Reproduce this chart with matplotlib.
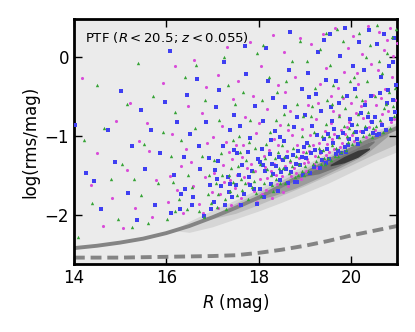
import numpy as np
import matplotlib
matplotlib.use("Agg")
import matplotlib.pyplot as plt

# scatter samples (R mag, log rms)
mag_pts = [(14.17,-0.27),(14.38,-1.62),(14.62,-2.14),(14.51,-1.22),(14.83,-1.78),(14.91,-0.81),
    (15.07,-2.17),(15.21,-0.58),(15.33,-1.91),(15.41,-1.07),(15.16,-1.43),(15.58,-0.84),(15.69,-2.03),(15.77,-1.56),(15.94,-0.33),(15.63,-1.19),
    (16.04,-1.83),(16.13,-0.97),(16.19,-0.12),(16.31,-1.38),(16.36,-1.97),(16.47,-0.62),(16.42,-1.17),(16.24,-1.69),(16.53,-1.33),
    (16.61,-0.04),(16.71,-1.86),(16.77,-0.71),(16.83,-1.52),(16.89,-1.09),(16.96,-1.93),(16.86,-0.38),(16.58,-1.64),(16.09,-1.51),
    (17.04,-1.47),(17.11,-0.23),(17.16,-1.73),(17.21,-0.88),(17.26,-1.58),(17.31,0.12),(17.36,-1.21),(17.41,-1.88),(17.44,-0.53),(17.01,-1.02),
    (17.23,-1.37),(17.49,-1.66),(17.53,-1.49),(17.56,-0.31),(17.61,-1.79),(17.66,-1.12),(17.71,-0.76),(17.76,-1.59),(17.81,0.19),(17.84,-1.36),
    (17.91,-1.7),(17.94,-0.96),(17.63,-1.27),(17.87,-0.49),(17.13,-1.91),(17.38,-1.56),(17.58,-1.86),(17.74,-1.41),(17.97,-1.83),(17.29,-1.08),
    (18.02,-1.54),(18.06,-0.11),(18.11,-1.26),(18.16,-1.69),(18.19,-0.66),(18.26,-1.44),(18.31,0.28),(18.34,-1.04),(18.39,-1.61),(18.46,-0.86),
    (18.13,-1.39),(18.29,-1.79),(18.43,-0.36),(18.48,-1.29),(18.51,-1.51),(18.56,0.06),(18.61,-1.19),(18.64,-1.63),(18.69,-0.69),(18.76,-1.41),
    (18.79,-0.26),(18.84,-1.11),(18.91,-1.54),(18.94,-0.91),(18.57,-0.44),(18.73,-0.99),(18.89,0.24),(18.99,-1.34),(18.08,-1.74),(18.22,-1.18),
    (18.37,-1.49),(18.53,-1.71),(18.67,-1.33),(18.82,-1.47),(18.97,-1.21),(18.41,-1.12),
    (19.02,-1.44),(19.06,-0.61),(19.09,-1.19),(19.14,0.16),(19.21,-1.36),(19.24,-0.79),(19.31,-1.09),(19.34,-0.34),(19.41,-1.31),(19.44,-0.94),
    (19.11,-0.99),(19.27,-1.41),(19.39,0.29),(19.47,-0.14),(19.52,-1.21),(19.56,-0.49),(19.59,-1.04),(19.66,0.36),(19.69,-1.24),(19.74,-0.74),
    (19.81,-1.09),(19.84,-0.19),(19.91,-0.89),(19.94,0.11),(19.57,-0.84),(19.71,-0.39),(19.87,-0.98),(19.99,-0.59),(19.04,-1.29),(19.18,-1.12),
    (19.33,-1.22),(19.49,-1.1),(19.63,-1.16),(19.78,-0.93),(19.92,-1.03),(19.29,-0.58),(19.61,-0.68),(19.82,-0.52),
    (20.02,-0.99),(20.04,0.26),(20.11,-0.71),(20.16,-0.34),(20.19,-0.94),(20.24,0.04),(20.31,-0.56),(20.36,0.39),(20.41,-0.81),(20.44,-0.09),
    (20.13,-0.21),(20.39,-0.89),(20.54,-0.61),(20.61,0.31),(20.64,-0.84),(20.71,0.09),(20.74,-0.41),(20.81,-0.69),(20.84,0.37),(20.89,-0.26),
    (20.96,-0.54),(20.59,-0.16),(20.77,0.21),(20.91,0.01),(20.07,-1.06),(20.27,-0.77),(20.48,-0.48),(20.68,-0.72),(20.87,-0.83),(20.99,0.18),
    (17.17,-1.62),(17.42,-1.29),(17.68,-1.52),(17.93,-1.44),(18.18,-1.53),(18.33,-1.36),(18.58,-1.38),(18.71,-1.51),(18.87,-1.28),(19.07,-1.33),
    (19.23,-1.25),(19.46,-1.24),(19.64,-0.97),(19.76,-1.14),(19.96,-0.82),(20.21,-0.62),(20.33,-1.01),(20.52,-0.93),(20.66,-0.52),(20.94,-0.78),
    (16.79,-1.98),(16.99,-1.71),(17.52,-1.12),(18.01,-0.84),(18.63,-0.93)]

blue_pts = [(14.03,-0.86),(14.27,-1.47),(14.44,-1.57),(14.58,-1.92),(14.73,-0.92),(14.88,-1.33),
    (15.02,-0.43),(15.17,-1.72),(15.26,-1.13),(15.37,-2.07),(15.46,-0.67),(15.54,-1.42),(15.67,-0.93),(15.76,-1.87),(15.86,-1.22),(15.97,-0.57),
    (16.08,0.08),(16.16,-1.49),(16.23,-0.83),(16.29,-1.92),(16.39,-1.27),(16.44,-0.48),(16.11,-1.98),(16.41,-1.67),(16.51,-0.98),
    (16.59,-1.77),(16.67,-0.28),(16.74,-1.42),(16.81,-2.01),(16.87,-0.83),(16.94,-1.62),(16.71,-1.13),(16.33,-1.73),(16.92,-1.28),
    (17.03,-1.84),(17.07,-0.63),(17.12,-1.32),(17.19,-1.64),(17.24,-0.06),(17.33,-1.52),(17.37,-0.93),(17.43,-1.77),(17.46,-1.18),(17.14,-0.42),
    (17.28,-1.87),(17.47,-0.73),(17.51,-1.62),(17.59,-0.88),(17.64,-1.37),(17.69,-1.74),(17.73,-0.22),(17.79,-1.52),(17.82,-1.03),(17.89,-1.67),
    (17.92,-0.62),(17.99,-1.29),(17.54,-1.22),(17.71,0.14),(17.06,-1.43),(17.22,-1.13),(17.39,-1.61),(17.62,-1.88),(17.86,-1.45),(17.96,-1.86),
    (18.04,-1.67),(18.09,-0.81),(18.14,-1.44),(18.17,0.11),(18.24,-1.23),(18.27,-1.61),(18.32,-0.52),(18.38,-1.38),(18.42,-1.7),(18.47,-1.01),
    (18.07,-1.16),(18.21,-0.31),(18.36,-0.94),(18.46,-1.56),(18.52,-1.31),(18.58,-0.64),(18.63,-1.59),(18.66,-0.16),(18.71,-1.46),(18.77,-0.89),
    (18.83,-1.58),(18.86,-1.19),(18.93,-0.41),(18.97,-1.49),(18.54,-1.06),(18.69,0.31),(18.84,-0.76),(18.99,-1.14),(18.12,-1.77),(18.29,-1.36),
    (18.44,-1.27),(18.59,-1.42),(18.74,-1.24),(18.89,-1.37),(18.02,-1.33),(18.79,-1.58),
    (19.03,-1.28),(19.07,-0.21),(19.12,-1.47),(19.16,-0.88),(19.22,-1.18),(19.28,0.06),(19.32,-1.4),(19.36,-0.69),(19.42,-1.04),(19.47,-1.34),
    (19.09,-0.51),(19.26,-0.99),(19.41,0.21),(19.45,-0.29),(19.53,-1.29),(19.57,-0.64),(19.62,-1.09),(19.68,-0.31),(19.72,-1.19),(19.77,0.01),
    (19.82,-0.96),(19.87,-1.14),(19.91,-0.49),(19.97,-0.79),(19.54,0.29),(19.64,-0.91),(19.86,0.37),(19.96,-1.04),(19.05,-1.09),(19.19,-1.39),
    (19.35,-1.21),(19.51,-0.97),(19.67,-1.23),(19.79,-1.22),(19.93,-1.11),(19.24,-0.47),(19.59,-0.81),(19.74,-0.58),
    (20.03,-0.86),(20.08,-0.41),(20.13,-1.04),(20.18,0.19),(20.22,-0.71),(20.28,-0.16),(20.33,-0.91),(20.38,0.34),(20.43,-0.49),(20.48,-0.96),
    (20.05,-0.11),(20.31,-0.61),(20.52,-0.76),(20.57,0.16),(20.62,-0.46),(20.68,-0.86),(20.72,0.29),(20.77,-0.59),(20.82,-0.11),(20.87,-0.79),
    (20.93,0.24),(20.97,-0.36),(20.65,-0.26),(20.9,-0.06),(20.15,-1.1),(20.25,-0.95),(20.45,-0.82),(20.6,-0.97),(20.8,-0.42),(20.95,-0.7),
    (17.09,-1.55),(17.35,-1.71),(17.57,-1.49),(17.81,-1.62),(18.1,-1.37),(18.31,-1.48),(18.49,-1.46),(18.61,-1.27),(18.81,-1.35),(18.95,-1.27),
    (19.14,-1.22),(19.38,-1.3),(19.49,-1.16),(19.71,-1.01),(19.89,-1.2),(20.1,-0.95),(20.36,-0.76),(20.56,-0.99),(20.75,-0.92),(20.92,-0.55),
    (16.56,-1.88),(16.98,-1.92),(17.76,-1.21),(18.26,-1.05),(19.01,-0.74)]

green_pts = [(14.1,-2.28),(14.22,-1.05),(14.4,-1.85),(14.65,-0.9),(14.8,-1.55),(14.95,-2.05),(14.5,-0.35),
    (15.05,-1.35),(15.15,-0.6),(15.25,-2.15),(15.38,-0.08),(15.45,-1.75),(15.52,-1.1),(15.6,-2.1),(15.72,-0.5),(15.82,-1.6),(15.92,-0.95),(15.3,-1.55),
    (16.02,-2.05),(16.1,-1.25),(16.18,-0.7),(16.27,-1.8),(16.33,-1.05),(16.4,-0.25),(16.48,-1.5),(16.2,-1.95),(16.55,-1.65),
    (16.62,-0.9),(16.7,-1.95),(16.78,-1.25),(16.85,-0.55),(16.92,-1.5),(16.98,-1.85),(16.65,-0.1),(16.14,-1.58),(16.81,-2.02),
    (17.03,-1.3),(17.1,-1.9),(17.15,-0.8),(17.2,-1.5),(17.27,-1.8),(17.33,-0.35),(17.4,-1.4),(17.45,-1.05),(17.07,-1.6),(17.25,0.0),
    (17.37,-1.7),(17.48,-0.6),(17.53,-1.75),(17.58,-1.0),(17.62,-1.55),(17.67,-0.45),(17.72,-1.3),(17.77,-1.8),(17.82,-0.8),(17.87,-1.45),
    (17.92,-1.15),(17.97,0.05),(17.6,-1.2),(17.85,-1.65),(17.18,-1.22),(17.3,-1.93),(17.44,-1.58),(17.56,-1.38),(17.7,-1.6),(17.94,-1.72),
    (18.02,-1.35),(18.07,-0.55),(18.12,-1.6),(18.17,-1.1),(18.22,-0.25),(18.27,-1.5),(18.32,-1.7),(18.37,-0.8),(18.42,-1.2),(18.47,-1.6),
    (18.1,0.15),(18.25,-0.95),(18.4,-0.45),(18.45,-1.4),(18.53,-1.4),(18.58,-1.6),(18.63,-0.85),(18.68,-1.3),(18.73,-0.05),(18.78,-1.52),
    (18.83,-0.6),(18.88,-1.35),(18.93,-1.0),(18.98,-1.5),(18.6,-0.3),(18.75,-1.15),(18.9,0.2),(18.96,-0.75),(18.05,-1.76),(18.19,-1.42),
    (18.35,-1.28),(18.5,-1.12),(18.65,-1.47),(18.8,-1.25),(18.95,-1.45),(18.3,-1.62),
    (19.02,-1.2),(19.08,-1.44),(19.13,-0.75),(19.18,-1.35),(19.23,-0.4),(19.28,-1.25),(19.33,0.1),(19.38,-1.0),(19.43,-1.36),(19.48,-0.55),
    (19.05,-0.05),(19.2,-0.95),(19.35,-1.36),(19.46,0.3),(19.52,-1.0),(19.57,-1.3),(19.62,-0.35),(19.67,-1.15),(19.73,-0.75),(19.78,-1.2),
    (19.83,0.2),(19.88,-0.65),(19.93,-1.08),(19.98,-0.3),(19.55,-0.1),(19.7,0.35),(19.8,-0.5),(19.95,-0.9),(19.1,-1.12),(19.25,-1.32),
    (19.4,-1.18),(19.5,-1.28),(19.65,-1.26),(19.75,-1.02),(19.9,-1.18),(19.15,-0.62),(19.45,-0.85),(19.85,-0.88),
    (20.02,-1.1),(20.07,-0.25),(20.12,-0.85),(20.17,0.3),(20.23,-0.55),(20.27,-1.0),(20.32,0.0),(20.37,-0.7),(20.42,0.15),(20.47,-0.9),
    (20.1,-0.5),(20.35,-0.3),(20.52,-0.5),(20.57,0.4),(20.63,-0.8),(20.67,-0.2),(20.72,-0.65),(20.78,0.05),(20.83,-0.45),(20.88,0.25),
    (20.93,-0.75),(20.98,0.35),(20.6,-0.05),(20.85,-0.9),(20.05,-0.95),(20.2,-1.06),(20.4,-0.98),(20.55,-0.88),(20.75,-0.6),(20.95,-0.4),
    (17.12,-1.74),(17.35,-1.5),(17.65,-1.69),(17.9,-1.57),(18.14,-1.28),(18.38,-1.55),(18.55,-1.27),(18.72,-1.38),(18.85,-1.5),(19.0,-1.38),
    (19.3,-1.15),(19.42,-1.28),(19.6,-1.12),(19.72,-1.26),(19.92,-1.0),(20.15,-0.72),(20.3,-0.88),(20.45,-1.02),(20.7,-0.95),(20.9,-0.62),
    (16.45,-1.92),(16.9,-1.73),(17.8,-1.08),(18.55,-0.72),(19.58,-0.6)]

# density contours of the full sample: (R, lower edge, upper edge) per level
dens_levels = [
    ([16.2,16.5,17.0,17.5,18.0,18.5,19.0,19.5,20.0,20.5,21.0],
     [-2.2,-2.22,-2.15,-2.05,-1.95,-1.84,-1.72,-1.6,-1.46,-1.32,-1.2],
     [-2.18,-2.08,-1.94,-1.81,-1.67,-1.52,-1.37,-1.21,-1.06,-0.94,-0.83]),
    ([16.9,17.5,18.0,18.5,19.0,19.5,20.0,20.5,21.0],
     [-2.06,-1.98,-1.87,-1.75,-1.63,-1.5,-1.37,-1.23,-1.1],
     [-2.04,-1.85,-1.71,-1.56,-1.41,-1.26,-1.1,-0.97,-0.86]),
    ([17.8,18.3,18.8,19.3,19.8,20.3,20.8],
     [-1.83,-1.76,-1.66,-1.53,-1.39,-1.24,-1.0],
     [-1.81,-1.66,-1.51,-1.35,-1.19,-1.06,-0.97]),
    ([18.9,19.3,19.7,20.1,20.5],
     [-1.52,-1.48,-1.39,-1.28,-1.08],
     [-1.5,-1.38,-1.25,-1.13,-1.06]),
    ([19.55,19.85,20.15,20.4],
     [-1.38,-1.34,-1.27,-1.17],
     [-1.36,-1.26,-1.18,-1.15]),
]
dens_colors = ['#d6d6d6', '#bdbdbd', '#9c9c9c', '#747474', '#3a3a3a']

# limit curves
curve_R = [14, 14.5, 15, 15.5, 16, 16.5, 17, 17.5, 18, 18.5, 19, 19.5, 20, 20.5, 21]
curve_solid = [-2.42, -2.39, -2.35, -2.30, -2.23, -2.14, -2.03, -1.91, -1.78,
               -1.63, -1.48, -1.32, -1.17, -1.03, -0.90]
curve_dash = [-2.54, -2.54, -2.54, -2.535, -2.53, -2.525, -2.52, -2.51, -2.48,
              -2.44, -2.39, -2.33, -2.26, -2.20, -2.14]

fig = plt.figure(figsize=(4.15, 3.32), dpi=100)
ax = fig.add_axes([0.178, 0.205, 0.779, 0.738])
ax.set_facecolor('#ebebeb')

for (r, lo, up), c in zip(dens_levels, dens_colors):
    ax.fill_between(r, lo, up, color=c, lw=0, zorder=1)

ax.plot(curve_R, curve_solid, color='#848484', lw=2.8, zorder=2)
ax.plot(curve_R, curve_dash, color='#848484', lw=2.8, ls=(0, (2.8, 1.5)), zorder=2)

m = np.array(mag_pts).T
b = np.array(blue_pts).T
g = np.array(green_pts).T
ax.scatter(m[0], m[1], s=5, marker='o', color='#d94cd9', lw=0, zorder=3)
ax.scatter(b[0], b[1], s=5, marker='s', color='#3f3ff2', lw=0, zorder=3)
ax.scatter(g[0], g[1], s=6, marker='^', color='#35a335', lw=0, zorder=3)

ax.set_xlim(14, 21)
ax.set_ylim(-2.62, 0.48)
ax.set_xticks([14, 16, 18, 20])
ax.set_yticks([-2, -1, 0])
ax.set_yticklabels(['\u22122', '\u22121', '0'])
ax.tick_params(direction='in', length=6, width=1, top=True, right=True, labelsize=12)
for s in ax.spines.values():
    s.set_linewidth(2)

ax.set_xlabel('$R$ (mag)', fontsize=12)
ax.set_ylabel('log(rms/mag)', fontsize=12)
ax.text(0.035, 0.955, 'PTF ($R < 20.5$; $z < 0.055$)', transform=ax.transAxes,
        fontsize=9.5, va='top', ha='left')

fig.savefig('out.png', dpi=100)
